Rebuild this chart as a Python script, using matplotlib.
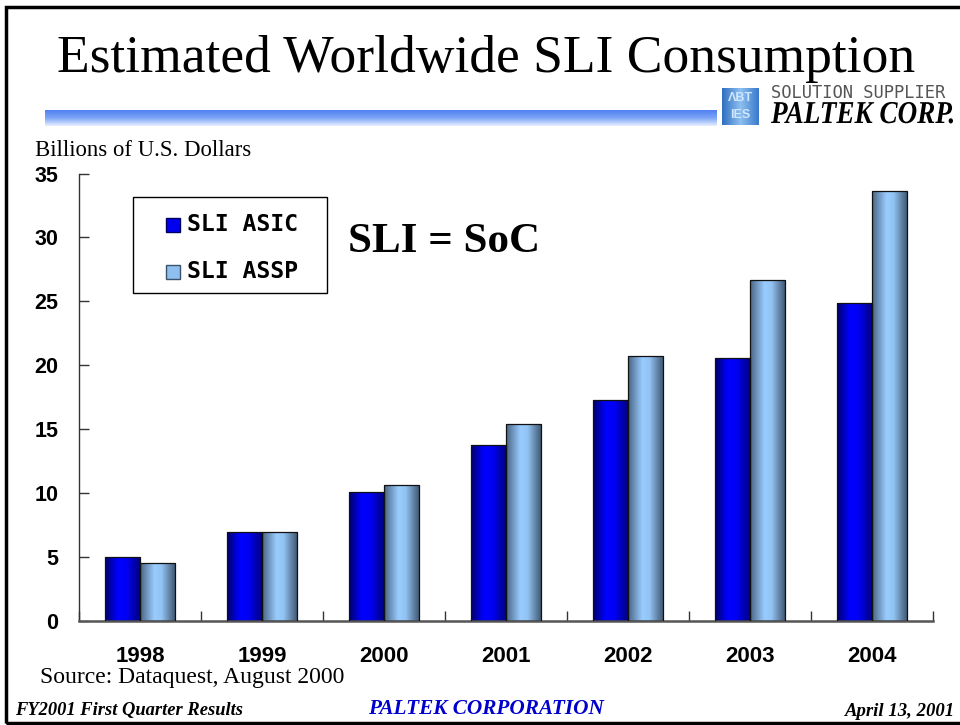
import numpy as np
import matplotlib
matplotlib.use('Agg')
import matplotlib.pyplot as plt
from matplotlib.colors import LinearSegmentedColormap
from matplotlib.patches import Rectangle, PathPatch
from matplotlib.textpath import TextPath
from matplotlib.font_manager import FontProperties
from matplotlib.transforms import Affine2D

# ---- data ----
years = ['1998', '1999', '2000', '2001', '2002', '2003', '2004']
asic = [5.0, 7.0, 10.1, 13.8, 17.3, 20.6, 24.9]
assp = [4.5, 7.0, 10.6, 15.4, 20.7, 26.7, 33.6]
series_names = ['SLI ASIC', 'SLI ASSP']
yticks = [0, 5, 10, 15, 20, 25, 30, 35]

W, H = 960, 725
DPI = 100
fig = plt.figure(figsize=(W / DPI, H / DPI), dpi=DPI)
fig.patch.set_facecolor('white')


def fx(px):
    return px / W


def fy(py):
    return 1 - py / H


SERIF = 'Liberation Serif'
SANS = 'Liberation Sans'

# ---- slide frame (right edge falls outside the picture) ----
fig.patches.append(Rectangle((fx(6), fy(723)), fx(975) - fx(6), fy(7) - fy(723),
                             transform=fig.transFigure, fill=False,
                             edgecolor='black', linewidth=2.5, zorder=0))

# ---- title ----
fig.text(fx(486), fy(59), 'Estimated Worldwide SLI Consumption', family=SERIF,
         fontsize=38.5, ha='center', va='center', color='black')

# gradient strip under title
gax = fig.add_axes([fx(45), fy(126), fx(717) - fx(45), fy(110) - fy(126)])
gax.imshow(np.linspace(0, 1, 64).reshape(-1, 1), aspect='auto',
           cmap=LinearSegmentedColormap.from_list('strip', ['#4f7ff2', '#7ea6f6', '#e6efff']),
           extent=(0, 1, 0, 1))
gax.axis('off')

# logo icon
lax = fig.add_axes([fx(722), fy(125), fx(759) - fx(722), fy(88) - fy(125)])
lax.imshow(np.linspace(0, 1, 64).reshape(1, -1), aspect='auto',
           cmap=LinearSegmentedColormap.from_list('logo', ['#2f6fc0', '#8ec0f0', '#3a7acc']),
           extent=(0, 1, 0, 1))
lax.text(0.5, 0.72, 'ΛBT', ha='center', va='center', fontsize=9, color='#cfe6ff',
         family=SANS, weight='bold', transform=lax.transAxes)
lax.text(0.5, 0.28, 'IES', ha='center', va='center', fontsize=9, color='#cfe6ff',
         family=SANS, weight='bold', transform=lax.transAxes)
lax.axis('off')
fig.text(fx(771), fy(92.5), 'SOLUTION SUPPLIER', family='DejaVu Sans Mono', fontsize=12.3,
         ha='left', va='center', color='#555555')


def fitted_text(s, x0, x1, ybase, cap, prop, color='black'):
    tp = TextPath((0, 0), s, size=1, prop=prop)
    ext = tp.get_extents()
    sx = (x1 - x0) / ext.width
    sy = cap / 0.66
    tr = (Affine2D().scale(sx, sy).translate(x0 - ext.x0 * sx, H - ybase)
          .scale(1 / DPI) + fig.dpi_scale_trans)
    fig.patches.append(PathPatch(tp, transform=tr, facecolor=color, edgecolor='none'))


fitted_text('PALTEK CORP.', 771, 953, 123, 21,
            FontProperties(family=SERIF, style='italic', weight='bold'))

# ---- axes ----
ax = fig.add_axes([fx(79), fy(621), fx(933) - fx(79), fy(173.5) - fy(621)])
x = np.arange(len(years))
bw = 0.29
b1 = ax.bar(x - bw / 2, asic, bw, color='#0000ff', linewidth=0, zorder=2)
b2 = ax.bar(x + bw / 2, assp, bw, color='#99ccff', linewidth=0, zorder=2)

cm_asic = LinearSegmentedColormap.from_list(
    'asic', [(0, '#00006a'), (0.35, '#0000ff'), (0.6, '#0000f4'), (1, '#000078')])
cm_assp = LinearSegmentedColormap.from_list(
    'assp', [(0, '#4a6482'), (0.4, '#99ccff'), (0.6, '#92c4f4'), (1, '#3c526c')])
grad = np.linspace(0, 1, 128).reshape(1, -1)
for bars, cm in ((b1, cm_asic), (b2, cm_assp)):
    for p in bars:
        x0, y0 = p.get_x(), p.get_y()
        im = ax.imshow(grad, cmap=cm, aspect='auto', interpolation='bicubic',
                       extent=(x0, x0 + p.get_width(), y0, y0 + p.get_height()),
                       zorder=2.5)
        im.set_clip_path(p)
# outlines
ax.bar(x - bw / 2, asic, bw, fill=False, edgecolor='#111111', linewidth=0.9, zorder=3)
ax.bar(x + bw / 2, assp, bw, fill=False, edgecolor='#111111', linewidth=0.9, zorder=3)

ax.set_xlim(-0.5, len(years) - 0.5)
ax.set_ylim(0, 35)
ax.set_yticks(yticks)
ax.set_yticklabels([str(v) for v in yticks], family=SANS, weight='bold', fontsize=15.5)
ax.set_xticks(x)
ax.set_xticklabels(years, family=SANS, weight='bold', fontsize=16)
ax.set_xticks(np.arange(-0.5, len(years)), minor=True)
ax.tick_params(axis='x', which='major', length=0, pad=18)
ax.tick_params(axis='x', which='minor', direction='in', length=7, width=1, color='#333333')
ax.tick_params(axis='y', direction='in', length=7, width=1, color='#333333', pad=15)
for s in ('top', 'right'):
    ax.spines[s].set_visible(False)
ax.spines['left'].set_color('#333333')
ax.spines['left'].set_linewidth(1)
ax.spines['bottom'].set_color('#555555')
ax.spines['bottom'].set_linewidth(1.8)

# ---- legend (manual) ----
fig.patches.append(Rectangle((fx(133), fy(293)), fx(327) - fx(133), fy(197) - fy(293),
                             transform=fig.transFigure, facecolor='white',
                             edgecolor='black', linewidth=1, zorder=5))
leg_colors = [('#0000ee', '#000060'), ('#8fbfee', '#3c526c')]
for i, (name, (fc, ec)) in enumerate(zip(series_names, leg_colors)):
    cy = 225 + i * 47
    fig.patches.append(Rectangle((fx(166), fy(cy + 7)), fx(180) - fx(166), fy(cy - 7) - fy(cy + 7),
                                 transform=fig.transFigure, facecolor=fc,
                                 edgecolor=ec, linewidth=1, zorder=6))
    fig.text(fx(187), fy(cy), name, family='DejaVu Sans Mono', weight='bold',
             fontsize=16.7, ha='left', va='center', zorder=6)

fig.text(fx(348), fy(242), 'SLI = SoC', family=SERIF, weight='bold', fontsize=31,
         ha='left', va='center')

# ---- labels & footer ----
fig.text(fx(35), fy(150), 'Billions of U.S. Dollars', family=SERIF, fontsize=16.4,
         ha='left', va='center')
fig.text(fx(40), fy(678), 'Source: Dataquest, August 2000', family=SERIF, fontsize=17,
         ha='left', va='center')
fig.text(fx(15), fy(711), 'FY2001 First Quarter Results', family=SERIF, style='italic',
         weight='bold', fontsize=13.3, ha='left', va='center')
fig.text(fx(486), fy(709), 'PALTEK CORPORATION', family=SERIF, style='italic',
         weight='bold', fontsize=15.3, ha='center', va='center', color='#0000cc')
fig.text(fx(955), fy(711), 'April 13, 2001', family=SERIF, style='italic',
         weight='bold', fontsize=13.5, ha='right', va='center')

fig.savefig('out.png', dpi=DPI)
